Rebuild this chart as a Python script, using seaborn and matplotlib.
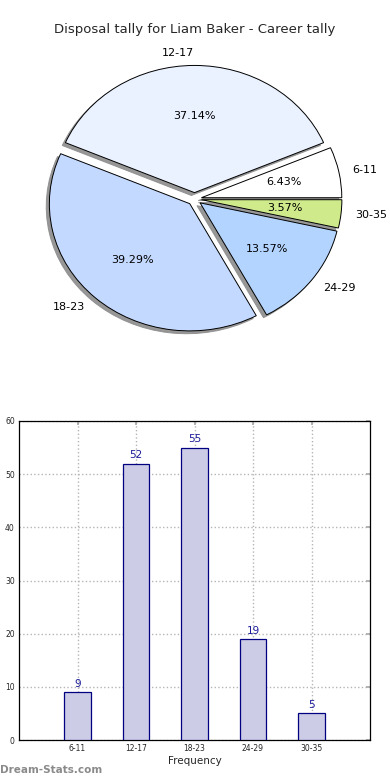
import matplotlib
matplotlib.use("Agg")
import matplotlib.pyplot as plt
import seaborn as sns
import pandas as pd

# ---- data ----
categories = ["6-11", "12-17", "18-23", "24-29", "30-35"]
counts = [9, 52, 55, 19, 5]
pie_colors = ["#ffffff", "#eaf1ff", "#c4d9ff", "#b3d4ff", "#cfea8a"]
title = "Disposal tally for Liam Baker - Career tally"
xlabel = "Frequency"
yticks = [0, 10, 20, 30, 40, 50, 60]
watermark = "Dream-Stats.com"

sns.set_theme(style="white")
plt.rcParams['font.family'] = ['DejaVu Sans']

fig = plt.figure(figsize=(3.9, 7.8), dpi=100)

# ---- pie ----
ax1 = fig.add_axes([19/390, 1 - 358/780, 351/390, 318/780])
wedges, texts, autotexts = ax1.pie(
    counts, labels=categories, colors=pie_colors, autopct="%.2f%%",
    explode=[0.05] * len(counts),
    shadow=dict(ox=-0.016, oy=-0.016, facecolor="#8c8c8c",
                edgecolor="#8c8c8c", alpha=0.9),
    startangle=0,
    wedgeprops=dict(edgecolor="black", linewidth=0.7),
    textprops=dict(fontsize=8, color="black"),
)
ax1.set_aspect("auto")
ax1.set_xlim(-1.25, 1.25)
ax1.set_ylim(-1.25, 1.25)
ax1.set_title(title, fontsize=9.5, pad=5)

# ---- bars ----
ax2 = fig.add_axes([19/390, 40/780, 351/390, 319/780])
df = pd.DataFrame({"cat": categories, "count": counts})
sns.barplot(data=df, x="cat", y="count", ax=ax2, width=0.45,
            color="#ccccE6", edgecolor="#000080", linewidth=0.9,
            saturation=1, zorder=3)
for i, v in enumerate(counts):
    ax2.text(i, v + 0.6, str(v), ha="center", va="bottom",
             fontsize=7.5, color="#1a1a99", zorder=4)
ax2.set_xlim(-1, 5)
ax2.set_ylim(0, 60)
ax2.set_yticks(yticks)
ax2.set_xlabel(xlabel, fontsize=7.5, labelpad=2)
ax2.set_ylabel("")
ax2.tick_params(axis="both", labelsize=5.5, direction="in", length=3,
                color="#aaaaaa", top=True, right=True, pad=3)
ax2.grid(True, linestyle=":", color="#b5b5b5", linewidth=1, zorder=0)
ax2.set_axisbelow(True)
for s in ax2.spines.values():
    s.set_color("black")
    s.set_linewidth(0.9)

fig.text(0.0, 10/780, watermark, fontsize=7.5, color="#8a8a8a",
         fontweight="semibold", ha="left", va="center")

fig.savefig("out.png", dpi=100)
